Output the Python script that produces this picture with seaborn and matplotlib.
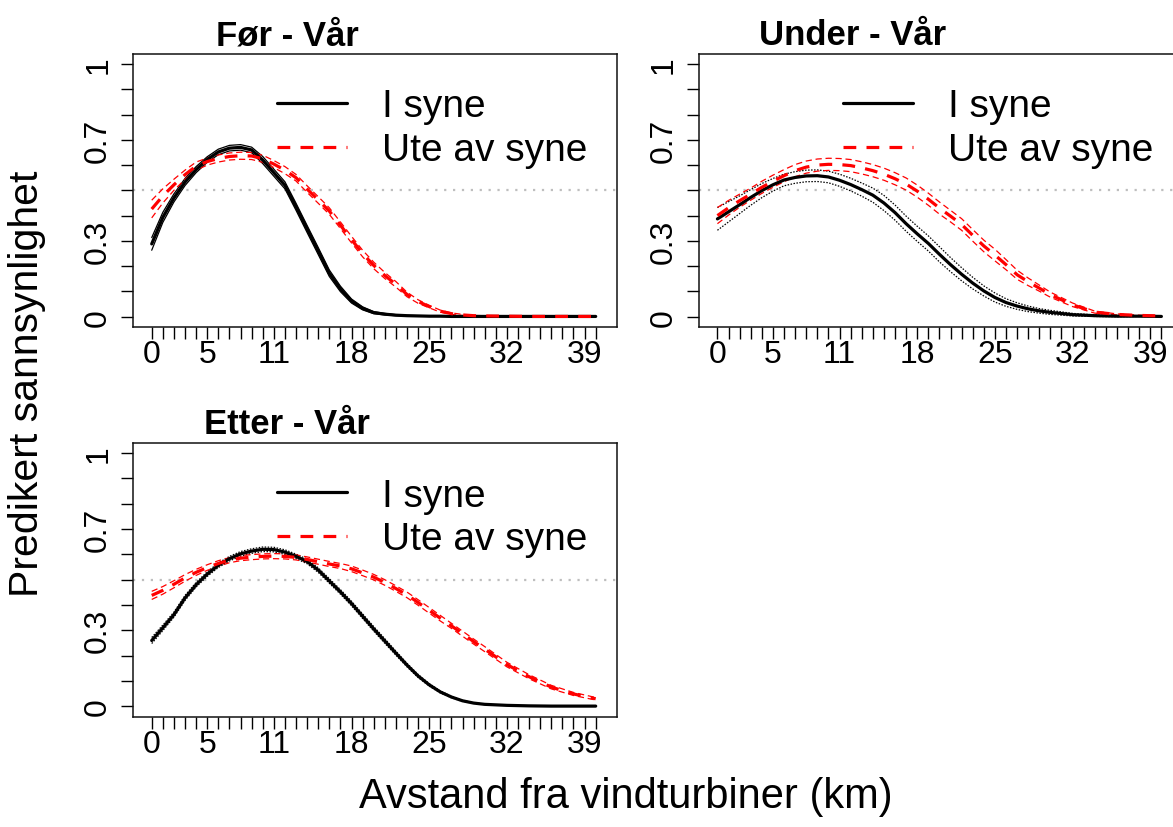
import matplotlib
matplotlib.use("Agg")
import matplotlib.pyplot as plt
from matplotlib.lines import Line2D
import numpy as np
import seaborn as sns

# distance grid (km) the curves were read at
distance = list(range(0, 31)) + [32, 34, 36, 38, 40]

# Før - Vår
for_syne = [0.288, 0.393, 0.47, 0.533, 0.582, 0.622, 0.652, 0.667, 0.67, 0.66,
            0.62, 0.57, 0.52, 0.435, 0.347, 0.26, 0.172, 0.11, 0.062, 0.033,
            0.016, 0.01, 0.006, 0.004, 0.003, 0.002, 0.002, 0.001, 0.001, 0.001,
            0.001, 0.001, 0.001, 0.001, 0.001, 0.001]
for_syne_ci = [0.025, 0.02, 0.016, 0.014, 0.012, 0.011, 0.011, 0.011, 0.011, 0.011,
               0.014, 0.014, 0.014, 0.014, 0.014, 0.014, 0.013, 0.011, 0.008, 0.006,
               0.004, 0.003, 0.002, 0.001, 0.001, 0.001, 0, 0, 0, 0,
               0, 0, 0, 0, 0, 0]
for_ute = [0.426, 0.478, 0.522, 0.562, 0.596, 0.614, 0.626, 0.634, 0.637, 0.636,
           0.625, 0.604, 0.58, 0.55, 0.505, 0.462, 0.418, 0.362, 0.305, 0.25,
           0.203, 0.163, 0.128, 0.088, 0.06, 0.04, 0.022, 0.012, 0.007, 0.004,
           0.003, 0.002, 0.001, 0.001, 0.001, 0.001]
for_ute_ci = [0.035, 0.028, 0.022, 0.018, 0.016, 0.014, 0.014, 0.014, 0.014, 0.014,
              0.014, 0.014, 0.014, 0.013, 0.013, 0.013, 0.013, 0.013, 0.013, 0.013,
              0.013, 0.012, 0.011, 0.009, 0.007, 0.005, 0.004, 0.003, 0.002, 0.001,
              0.001, 0, 0, 0, 0, 0]

# Under - Vår
under_syne = [0.387, 0.415, 0.443, 0.472, 0.499, 0.522, 0.541, 0.551, 0.557, 0.558,
              0.553, 0.54, 0.523, 0.503, 0.481, 0.45, 0.412, 0.368, 0.328, 0.29,
              0.247, 0.206, 0.168, 0.133, 0.102, 0.076, 0.056, 0.042, 0.031, 0.023,
              0.017, 0.008, 0.004, 0.002, 0.002, 0.001]
under_syne_ci = [0.045, 0.04, 0.035, 0.031, 0.028, 0.025, 0.023, 0.023, 0.023, 0.023,
                 0.023, 0.024, 0.025, 0.026, 0.028, 0.03, 0.03, 0.03, 0.03, 0.03,
                 0.03, 0.028, 0.026, 0.023, 0.02, 0.018, 0.015, 0.013, 0.011, 0.009,
                 0.008, 0.005, 0.003, 0.002, 0.001, 0.001]
under_ute = [0.40, 0.431, 0.459, 0.485, 0.512, 0.536, 0.558, 0.578, 0.592, 0.60,
             0.603, 0.602, 0.598, 0.589, 0.578, 0.564, 0.546, 0.525, 0.497, 0.465,
             0.43, 0.398, 0.365, 0.322, 0.28, 0.244, 0.206, 0.166, 0.138, 0.113,
             0.087, 0.047, 0.018, 0.009, 0.005, 0.003]
under_ute_ci = [0.032, 0.029, 0.026, 0.024, 0.024, 0.024, 0.024, 0.024, 0.024, 0.024,
                0.024, 0.024, 0.024, 0.024, 0.024, 0.024, 0.024, 0.024, 0.024, 0.024,
                0.024, 0.023, 0.023, 0.023, 0.023, 0.023, 0.02, 0.018, 0.015, 0.012,
                0.01, 0.007, 0.004, 0.002, 0.001, 0.001]

# Etter - Vår
etter_syne = [0.26, 0.31, 0.362, 0.428, 0.48, 0.522, 0.557, 0.583, 0.602, 0.613,
              0.62, 0.619, 0.609, 0.592, 0.572, 0.538, 0.495, 0.452, 0.406, 0.356,
              0.306, 0.258, 0.21, 0.163, 0.12, 0.085, 0.057, 0.037, 0.022, 0.013,
              0.008, 0.004, 0.002, 0.001, 0.001, 0.001]
etter_syne_ci = [0.012, 0.011, 0.01, 0.01, 0.009, 0.009, 0.009, 0.009, 0.009, 0.009,
                 0.009, 0.009, 0.009, 0.009, 0.009, 0.009, 0.009, 0.009, 0.009, 0.009,
                 0.009, 0.009, 0.008, 0.007, 0.006, 0.005, 0.004, 0.003, 0.002, 0.001,
                 0.001, 0, 0, 0, 0, 0]
etter_ute = [0.438, 0.458, 0.482, 0.507, 0.529, 0.548, 0.564, 0.577, 0.585, 0.589,
             0.592, 0.593, 0.592, 0.588, 0.58, 0.571, 0.562, 0.554, 0.543, 0.527,
             0.51, 0.489, 0.465, 0.44, 0.41, 0.379, 0.348, 0.318, 0.287, 0.256,
             0.226, 0.165, 0.117, 0.076, 0.049, 0.03]
etter_ute_ci = [0.016, 0.015, 0.014, 0.013, 0.012, 0.011, 0.011, 0.01, 0.01, 0.01,
                0.01, 0.01, 0.01, 0.01, 0.01, 0.01, 0.01, 0.01, 0.011, 0.011,
                0.011, 0.011, 0.011, 0.011, 0.011, 0.011, 0.011, 0.01, 0.01, 0.01,
                0.01, 0.009, 0.008, 0.007, 0.006, 0.005]

titles = ["Før - Vår", "Under - Vår", "Etter - Vår"]
legend_labels = ["I syne", "Ute av syne"]
x_ticklabels = {0: "0", 5: "5", 11: "11", 18: "18", 25: "25", 32: "32", 39: "39"}
y_ticklabels = {0.0: "0", 0.3: "0.3", 0.7: "0.7", 1.0: "1"}

sns.set_theme(style="white")
plt.rcParams["font.family"] = ["Liberation Sans", "DejaVu Sans"]
plt.rcParams["text.color"] = "black"
plt.rcParams["axes.labelcolor"] = "black"
plt.rcParams["xtick.color"] = "black"
plt.rcParams["ytick.color"] = "black"

W, H = 1173, 828
fig = plt.figure(figsize=(W / 100, H / 100), dpi=100)

def px_axes(left, top, width, height):
    return fig.add_axes([left / W, (H - top - height) / H, width / W, height / H])

axes = [px_axes(133.3, 55, 483.7, 273),
        px_axes(699, 55, 483.7, 273),
        px_axes(133.3, 444, 483.7, 273.7)]

panels = [
    (for_syne, for_syne_ci, for_ute, for_ute_ci, "-"),
    (under_syne, under_syne_ci, under_ute, under_ute_ci, (0, (1.2, 1.2))),
    (etter_syne, etter_syne_ci, etter_ute, etter_ute_ci, (0, (1.2, 1.2))),
]

red_dash = (0, (4, 3.2))
x = np.array(distance)

for ax, title, (syne, syne_ci, ute, ute_ci, ci_style) in zip(axes, titles, panels):
    syne = np.array(syne); syne_ci = np.array(syne_ci)
    ute = np.array(ute); ute_ci = np.array(ute_ci)

    ax.axhline(0.5, color="#BEBEBE", lw=1.6, linestyle=(0, (1, 3)), zorder=1)

    # confidence lines
    for sgn in (-1, 1):
        sns.lineplot(x=x, y=syne + sgn * syne_ci, ax=ax, color="black", lw=0.9,
                     linestyle=ci_style, zorder=2)
        sns.lineplot(x=x, y=ute + sgn * ute_ci, ax=ax, color="red", lw=0.9,
                     linestyle=(0, (5, 3)), zorder=3)

    sns.lineplot(x=x, y=syne, ax=ax, color="black", lw=2.3, zorder=4)
    sns.lineplot(x=x, y=ute, ax=ax, color="red", lw=2.3, linestyle=red_dash, zorder=5)

    ax.set_xlim(-1.66, 41.92)
    ax.set_ylim(-0.0408, 1.0396)

    ax.set_xticks(range(0, 41))
    ax.set_xticklabels([x_ticklabels.get(i, "") for i in range(0, 41)])
    yt = [round(v * 0.1, 1) for v in range(0, 11)]
    ax.set_yticks(yt)
    ax.set_yticklabels([y_ticklabels.get(v, "") for v in yt])

    ax.tick_params(axis="both", direction="out", length=8.5, width=1.0, color="black",
                   labelsize=23, labelcolor="black", bottom=True, left=True)
    ax.tick_params(axis="x", pad=0.5)
    ax.tick_params(axis="y", labelrotation=90, pad=6)
    for lab in ax.get_yticklabels():
        lab.set_verticalalignment("center")

    for sp in ax.spines.values():
        sp.set_color("#111111")
        sp.set_linewidth(1.1)
    ax.set_xlabel("")
    ax.set_ylabel("")
    ax.grid(False)

    ax.text(0.318, 1 + 10 / 273, title, transform=ax.transAxes, ha="center",
            va="baseline", fontsize=25, fontweight="bold", color="black")

    handles = [Line2D([], [], color="black", lw=2.3),
               Line2D([], [], color="red", lw=2.3, linestyle=red_dash)]
    leg = ax.legend(handles, legend_labels, loc="center left",
                    bbox_to_anchor=(0.297, 0.728), frameon=False, fontsize=28,
                    borderpad=0, borderaxespad=0, handlelength=1.8,
                    handletextpad=0.9, labelspacing=0.2)
    for t in leg.get_texts():
        t.set_color("black")

fig.text(27 / W, (H - 384) / H, "Predikert sannsynlighet", rotation=90,
         ha="center", va="center", fontsize=29.5, color="black")
fig.text(626 / W, 20 / H, "Avstand fra vindturbiner (km)", ha="center",
         va="baseline", fontsize=30, color="black")

fig.savefig("out.png", dpi=100, facecolor="white")
